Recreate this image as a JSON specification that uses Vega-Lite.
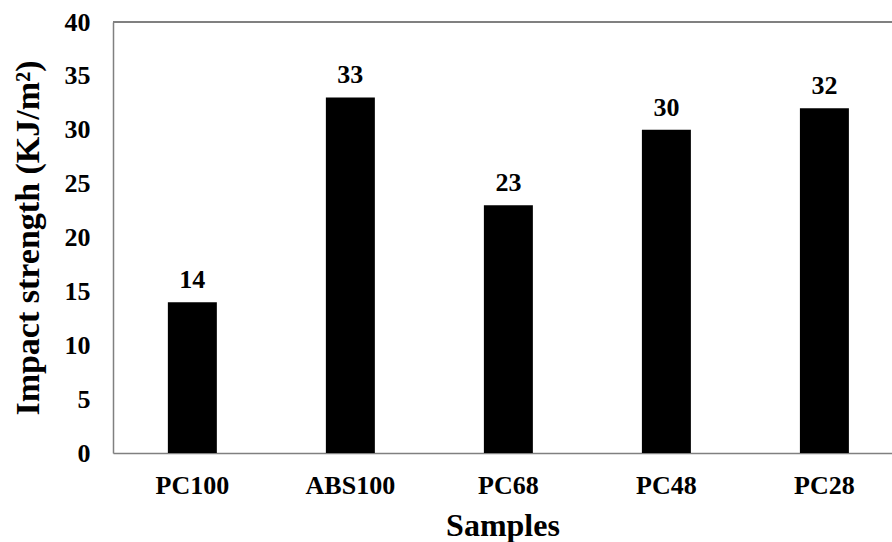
{
  "$schema": "https://vega.github.io/schema/vega-lite/v6.json",
  "width": 779,
  "height": 431,
  "autosize": "none",
  "padding": {"left": 113, "top": 22, "right": 0, "bottom": 89},
  "background": "white",
  "config": {"view": {"stroke": null}, "font": "Liberation Serif"},
  "data": {"values": [
    {"sample": "PC100", "strength": 14},
    {"sample": "ABS100", "strength": 33},
    {"sample": "PC68", "strength": 23},
    {"sample": "PC48", "strength": 30},
    {"sample": "PC28", "strength": 32}
  ]},
  "layer": [
    {
      "mark": {"type": "bar", "color": "#000"},
      "encoding": {
        "x": {
          "field": "sample", "type": "nominal", "sort": null,
          "scale": {"paddingInner": 0.69, "paddingOuter": 0.31, "align": 0.56},
          "axis": {
            "title": "Samples", "labelAngle": 0, "ticks": false,
            "labelFont": "Liberation Serif", "labelFontWeight": "bold", "labelFontSize": 26, "labelColor": "#000",
            "labelPadding": 19,
            "titleFont": "Liberation Serif", "titleFontWeight": "bold", "titleFontSize": 32, "titleColor": "#000",
            "titlePadding": 12,
            "domainColor": "#808080", "domainWidth": 1.5
          }
        },
        "y": {
          "field": "strength", "type": "quantitative",
          "scale": {"domain": [0, 40]},
          "axis": {
            "title": "Impact strength (KJ/m²)", "values": [0,5,10,15,20,25,30,35,40],
            "grid": false, "ticks": false,
            "labelFont": "Liberation Serif", "labelFontWeight": "bold", "labelFontSize": 26, "labelColor": "#000",
            "labelPadding": 23,
            "titleFont": "Liberation Serif", "titleFontWeight": "bold", "titleFontSize": 34, "titleColor": "#000",
            "titlePadding": 19,
            "domainColor": "#808080", "domainWidth": 1.5
          }
        }
      }
    },
    {
      "mark": {"type": "text", "dy": -14, "baseline": "alphabetic", "font": "Liberation Serif", "fontWeight": "bold", "fontSize": 26, "color": "#000"},
      "encoding": {
        "x": {"field": "sample", "type": "nominal", "sort": null},
        "y": {"field": "strength", "type": "quantitative"},
        "text": {"field": "strength", "type": "quantitative"}
      }
    },
    {
      "mark": {"type": "rule", "color": "#808080", "strokeWidth": 1.5},
      "encoding": {"y": {"datum": 40}}
    }
  ]
}
